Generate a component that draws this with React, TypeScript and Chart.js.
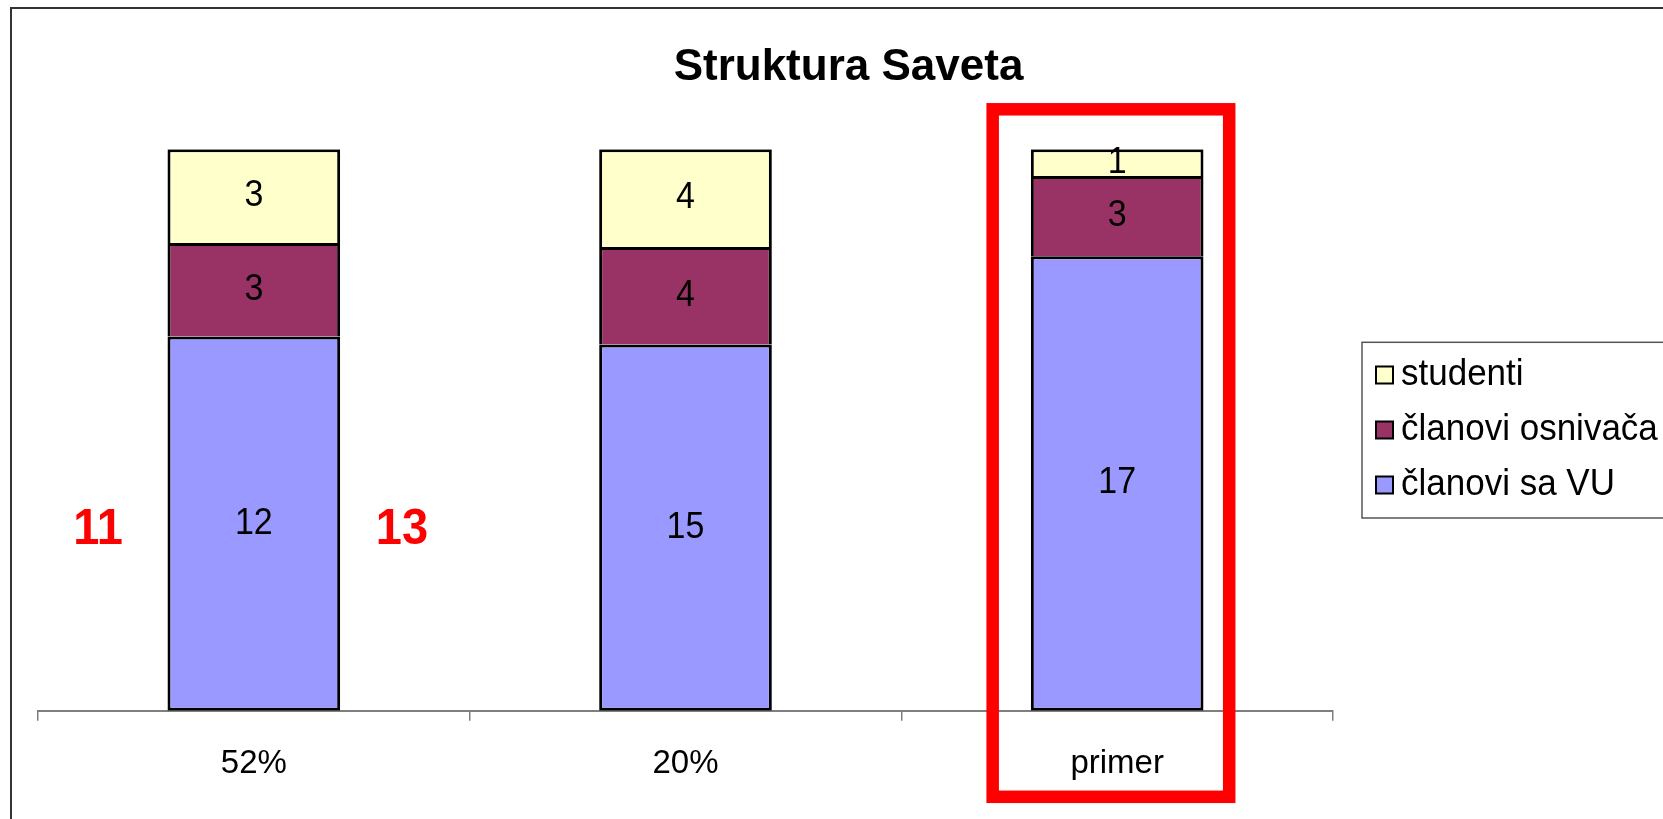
import React, { useEffect, useRef } from 'react';
import { Chart, registerables } from 'chart.js';

Chart.register(...registerables);

// ---- data ----
const chartTitle = 'Struktura Saveta';
const categories = ['52%', '20%', 'primer'];
const seriesNames = ['članovi sa VU', 'članovi osnivača', 'studenti'];
const clanoviSaVU = [12, 15, 17];
const clanoviOsnivaca = [3, 4, 3];
const studenti = [3, 4, 1];
const seriesColors = ['#9999FF', '#993366', '#FFFFCC'];
const sideNotes = ['11', '13'];
const highlightedCategory = 2;

const FONT = '"Liberation Sans", Arial, Helvetica, sans-serif';

const rawSeries = [clanoviSaVU, clanoviOsnivaca, studenti];
const totals = categories.map((_, i) => rawSeries.reduce((s, arr) => s + arr[i], 0));
const percentSeries = rawSeries.map((arr) => arr.map((v, i) => (v / totals[i]) * 100));

function stretchedText(ctx: any, text: string, x: number, y: number, sy: number) {
  ctx.save();
  ctx.translate(x, y);
  ctx.scale(1, sy);
  ctx.fillText(text, 0, 0);
  ctx.restore();
}

const titlePlacement = {
  id: 'titlePlacement',
  afterLayout(chart: any) {
    const t = chart.titleBlock;
    if (t) {
      t.left = 0;
      t.right = chart.width;
      t.width = chart.width;
    }
  },
};

const valueLabels = {
  id: 'valueLabels',
  afterDatasetsDraw(chart: any) {
    const ctx = chart.ctx;
    ctx.save();
    ctx.font = `34px ${FONT}`;
    ctx.fillStyle = '#000';
    ctx.textAlign = 'center';
    ctx.textBaseline = 'middle';
    chart.data.datasets.forEach((ds: any, di: number) => {
      const meta = chart.getDatasetMeta(di);
      meta.data.forEach((el: any, i: number) => {
        const { x, y, base } = el.getProps(['x', 'y', 'base'], true);
        stretchedText(ctx, String(rawSeries[di][i]), x, (y + base) / 2, 1.06);
      });
    });
    ctx.restore();
  },
};

const extras = {
  id: 'extras',
  afterDraw(chart: any) {
    const ctx = chart.ctx;
    const xs = chart.scales.x;
    const ys = chart.scales.y;
    const area = chart.chartArea;
    const catW = (area.right - area.left) / categories.length;

    // red notes beside the first bar
    ctx.save();
    ctx.font = `bold 47px ${FONT}`;
    ctx.fillStyle = '#FF0000';
    ctx.textAlign = 'center';
    ctx.textBaseline = 'alphabetic';
    const c0 = xs.getPixelForValue(0);
    const noteY = ys.getPixelForValue(32.6) + 16;
    stretchedText(ctx, sideNotes[0], c0 - 0.361 * catW, noteY, 1.06);
    stretchedText(ctx, sideNotes[1], c0 + 0.343 * catW, noteY, 1.06);
    ctx.restore();

    // red highlight rectangle
    const ch = xs.getPixelForValue(highlightedCategory);
    ctx.save();
    ctx.strokeStyle = '#FF0000';
    ctx.lineWidth = 12.5;
    const l = ch - 0.2884 * catW;
    const r = ch + 0.2595 * catW;
    const t = area.top - 40;
    const b = area.bottom + 86;
    ctx.strokeRect(l, t, r - l, b - t);
    ctx.restore();

    // legend
    ctx.save();
    const boxL = area.right + 29;
    const boxT = 333.3;
    const boxB = 509;
    ctx.strokeStyle = '#555';
    ctx.lineWidth = 1.5;
    ctx.strokeRect(boxL, boxT, chart.width - 8 - boxL, boxB - boxT);
    const ds = chart.data.datasets;
    const order = ds.map((_: any, i: number) => i).reverse();
    ctx.font = `35px ${FONT}`;
    ctx.textAlign = 'left';
    ctx.textBaseline = 'alphabetic';
    order.forEach((di: number, k: number) => {
      const cy = 366 + k * 55;
      const sq = 17;
      const sx = boxL + 14;
      ctx.fillStyle = ds[di].backgroundColor;
      ctx.fillRect(sx, cy - sq / 2, sq, sq);
      ctx.strokeStyle = '#000';
      ctx.lineWidth = 2;
      ctx.strokeRect(sx, cy - sq / 2, sq, sq);
      ctx.fillStyle = '#000';
      stretchedText(ctx, ds[di].label, sx + sq + 8, cy + sq / 2 + 1, 1.05);
    });
    ctx.restore();
  },
};

export default function App() {
  const canvasRef = useRef<HTMLCanvasElement | null>(null);

  useEffect(() => {
    document.body.style.overflow = 'hidden';
    const canvas = canvasRef.current;
    if (!canvas) return;
    Chart.defaults.font.family = FONT;
    const chart = new Chart(canvas, {
      type: 'bar',
      data: {
        labels: categories,
        datasets: seriesNames.map((name, i) => ({
          label: name,
          data: percentSeries[i],
          backgroundColor: seriesColors[i],
          borderColor: '#000',
          borderWidth: 3,
          borderSkipped: i === 0 ? false : 'start',
          categoryPercentage: 1,
          barPercentage: 0.4,
        })),
      },
      options: {
        responsive: false,
        animation: false,
        events: [],
        layout: { padding: { left: 26, right: 352, top: 0, bottom: 32 } },
        plugins: {
          legend: { display: false },
          tooltip: { enabled: false },
          title: {
            display: true,
            text: chartTitle,
            color: '#000',
            font: { size: 44, weight: 'bold', family: FONT },
            padding: { top: 32, bottom: 55.5 },
          },
        },
        scales: {
          x: {
            stacked: true,
            grid: {
              offset: true,
              drawOnChartArea: false,
              drawTicks: true,
              tickLength: 10,
              color: '#7f7f7f',
              lineWidth: 1.5,
            },
            border: { display: true, color: '#7f7f7f', width: 2 },
            ticks: { color: '#000', font: { size: 33, family: FONT }, padding: 23.3 },
          },
          y: {
            stacked: true,
            display: false,
            min: 0,
            max: 100,
          },
        },
      },
      plugins: [titlePlacement, valueLabels, extras],
    });
    return () => chart.destroy();
  }, []);

  return (
    <div
      style={{
        position: 'absolute',
        left: 10,
        top: 7,
        width: 1653,
        height: 812,
        overflow: 'hidden',
        borderLeft: '2px solid #333',
        borderTop: '2px solid #333',
        boxSizing: 'border-box',
        background: '#fff',
      }}
    >
      <canvas ref={canvasRef} width={1673} height={830} style={{ display: 'block' }} />
    </div>
  );
}
